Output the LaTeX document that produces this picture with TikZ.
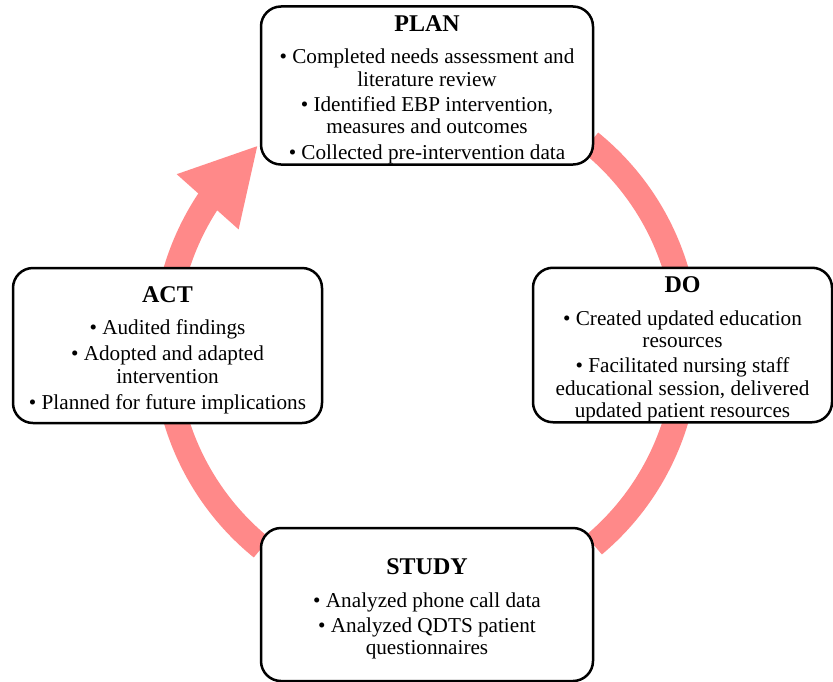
\documentclass[tikz,border=0pt]{standalone}
\usepackage{fontspec}
\setmainfont{Liberation Serif}
\usetikzlibrary{arrows.meta,bending}
\definecolor{cyclepink}{RGB}{255,137,137}
\newcommand{\phasehead}[1]{\rule{0pt}{25pt}\textbf{\fontsize{24}{24}\selectfont #1}}

\begin{document}
\begin{tikzpicture}
        [x=1pt, y=1pt,
        phase/.style={draw, line width=2.5pt, rounded corners=20pt, fill=white, align=center, inner sep=0pt,
            font=\fontsize{21.2}{22.5}\selectfont},
        flow/.style={cyclepink, line width=25pt},
        flowarrow/.style={cyclepink, line width=25pt, -{Triangle[length=76pt, width=77pt]}}]

        \useasboundingbox (0,0) rectangle (833,-681);

        % centre of the cycle
        \coordinate (ctr) at (426,-345);

        % arcs of the cycle (under the boxes)
        \draw[flow] (ctr) ++(51:261) arc[start angle=51, end angle=16, radius=261];
        \draw[flow] (ctr) ++(-16:261) arc[start angle=-16, end angle=-50, radius=261];
        \draw[flow] (ctr) ++(231:261) arc[start angle=231, end angle=196, radius=261];
        \draw[flowarrow] (ctr) ++(164:261) arc[start angle=164, end angle=130, radius=261];

        % the four phases
        \node[phase, minimum width=332, minimum height=155] (plan) at (427,-85.5)
            {\phasehead{PLAN}\\[10pt]
             • Completed needs assessment and\\ literature review\\[2.5pt]
             • Identified EBP intervention,\\ measures and outcomes\\[3.5pt]
             • Collected pre-intervention data};
        \node[phase, minimum width=299, minimum height=154] (do) at (682.5,-345)
            {\phasehead{DO}\\[10pt]
             • Created updated education\\ resources\\[2.5pt]
             • Facilitated nursing staff\\ educational session, delivered\\ updated patient resources};
        \node[phase, minimum width=332, minimum height=153] (study) at (427,-604.5)
            {\phasehead{STUDY}\\[10pt]
             • Analyzed phone call data\\[2.5pt]
             • Analyzed QDTS patient\\ questionnaires};
        \node[phase, minimum width=309, minimum height=155] (act) at (167.5,-345.5)
            {\phasehead{ACT}\\[10pt]
             • Audited findings\\[3.5pt]
             • Adopted and adapted\\ intervention\\[3.5pt]
             • Planned for future implications};

\end{tikzpicture}
\end{document}
